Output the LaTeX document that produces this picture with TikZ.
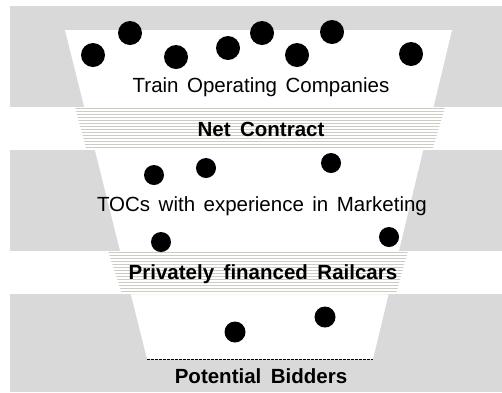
\documentclass[tikz,border=0pt]{standalone}
\usepackage{fontspec}
\setmainfont{Liberation Sans}
\definecolor{bandgray}{RGB}{217,217,217}
\definecolor{hatchgray}{RGB}{204,204,196}
\newcommand{\plainfont}{\fontsize{20.5}{25}\selectfont\spaceskip=8.5pt\relax}
\newcommand{\boldfont}{\fontsize{20.5}{25}\selectfont\bfseries\spaceskip=9.5pt\relax}

\begin{document}
\begin{tikzpicture}[x=1pt, y=-1pt,
    band/.style={fill=bandgray, draw=none},
    hatch/.style={draw=hatchgray, line width=0.9pt},
    dot/.style={circle, fill=black, inner sep=0pt, minimum size=#1},
    dot/.default=24pt,
    plaintext/.style={anchor=base, inner sep=0pt, font=\plainfont},
    boldtext/.style={anchor=base, inner sep=0pt, font=\boldfont}]
      \useasboundingbox (0,0) rectangle (502,392);
      % grey bands
      \fill [band] (10,6) rectangle (502,107);
      \fill [band] (10,150) rectangle (502,251);
      \fill [band] (10,294) rectangle (502,392);
      % funnel
      \fill [white] (65,30) -- (452,30) -- (373,359) -- (147,359) -- cycle;
      % hatched bands
      \begin{scope}
        \fill [white] (75,107) -- (445,107) -- (433,148) -- (86,148) -- cycle;
        \clip (75,107) -- (445,107) -- (433,148) -- (86,148) -- cycle;
        \foreach \y in {108,111,...,148} \draw [hatch] (60,\y) -- (460,\y);
      \end{scope}
      \begin{scope}
        \fill [white] (108,251) -- (408,251) -- (396,294) -- (122,294) -- cycle;
        \clip (108,251) -- (408,251) -- (396,294) -- (122,294) -- cycle;
        \foreach \y in {252,255,...,294} \draw [hatch] (90,\y) -- (420,\y);
      \end{scope}
      \coordinate (bl) at (147,359);
      \coordinate (br) at (373,359);
      \draw [line width=0.9pt, dash pattern=on 2.5pt off 1.5pt] (bl) -- (br);
      % dots
      \foreach \p [count=\i] in {(93,55),(130,33),(176,57),(228,48),(262,33),(297,55),(332,32),(411,54)}
        \node [dot] (top\i) at \p {};
      \foreach \p [count=\i] in {(154,175),(206,168),(331,163),(161,242),(389,237)}
        \node [dot=20pt] (mid\i) at \p {};
      \foreach \p [count=\i] in {(235,332),(325,317)}
        \node [dot=21pt] (low\i) at \p {};
      % texts
      \node [plaintext] (toc) at (261,92) {Train Operating Companies};
      \node [boldtext] (net) at (261,136) {Net Contract};
      \node [plaintext] (mkt) at (262,211) {TOCs with experience in Marketing};
      \node [boldtext] (priv) at (263,279) {Privately financed Railcars};
      \node [boldtext] (bid) at (261,383) {Potential Bidders};
\end{tikzpicture}
\end{document}
